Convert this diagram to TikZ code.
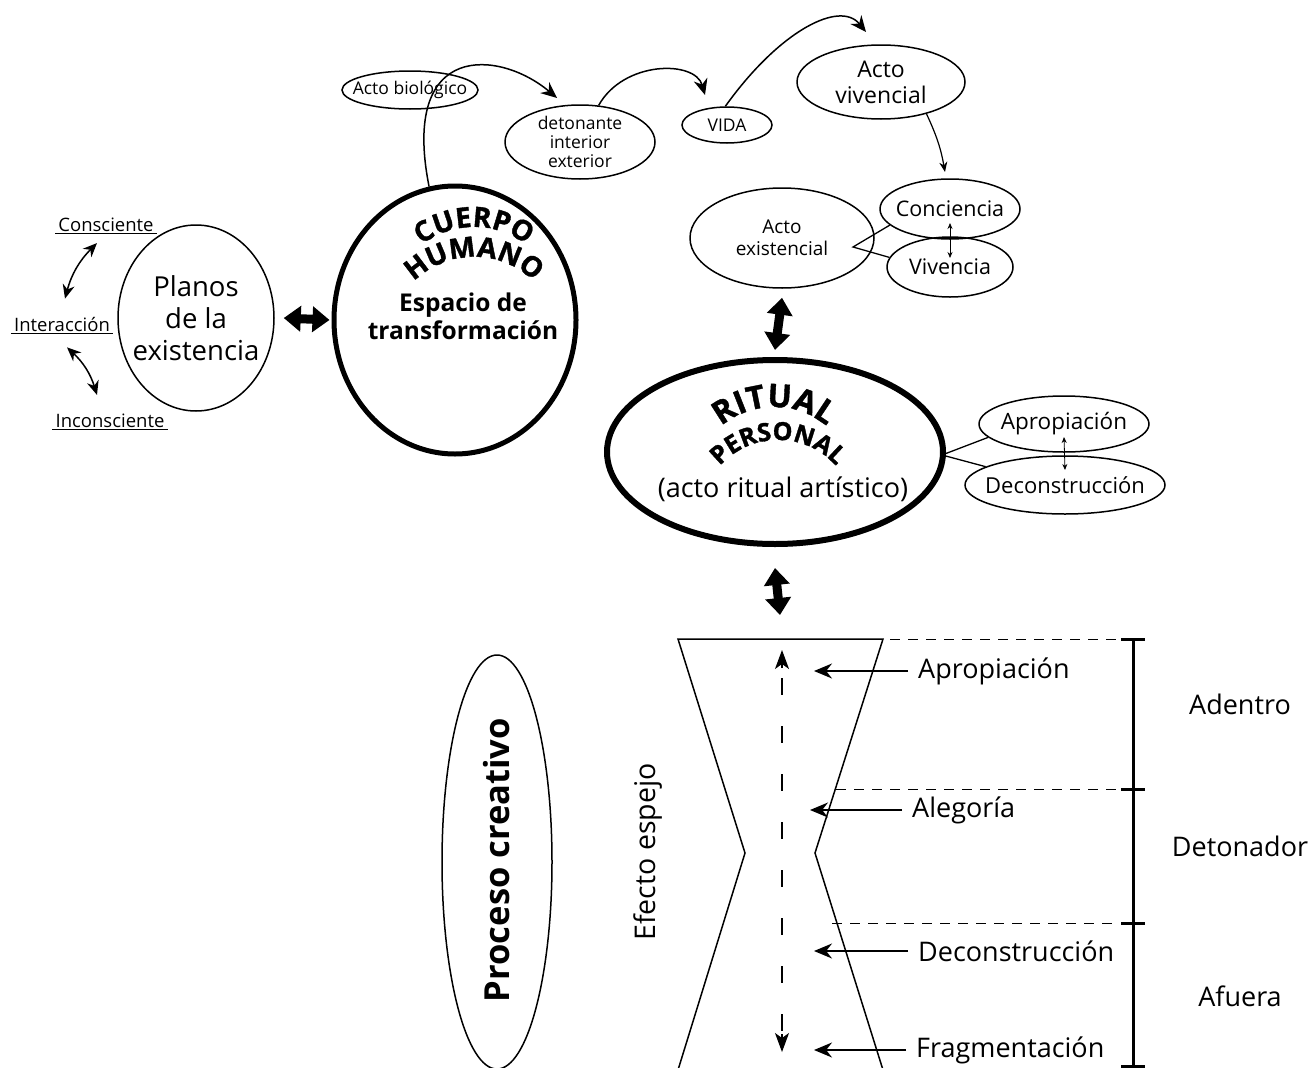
\documentclass[tikz,border=0pt]{standalone}
\usepackage{fontspec}
\setmainfont{Open Sans}
\newfontfamily\heavyfont{Open Sans}[BoldFeatures={FakeBold=1.3}]
\usetikzlibrary{shapes.geometric,arrows.meta,decorations.text,calc}

\begin{document}
\begin{tikzpicture}[x=1pt,y=-1pt,
  thin oval/.style={ellipse, draw, line width=1.5pt, inner sep=0pt},
  bold oval/.style={ellipse, draw, line width=5pt, inner sep=0pt},
  bigarrow/.style={line width=9pt, {Triangle[length=17pt,width=25pt]}-{Triangle[length=17pt,width=25pt]}},
  toparrow/.style={line width=1.5pt, -{Stealth[length=16pt,width=14pt]}},
  sidearrow/.style={line width=1.5pt, {Stealth[length=14pt,width=12pt]}-{Stealth[length=14pt,width=12pt]}},
  thinarrow/.style={line width=1.2pt, -{Stealth[length=10pt,width=8pt]}},
  tinyarrow/.style={line width=0.8pt, {Stealth[length=6pt,width=5pt]}-{Stealth[length=6pt,width=5pt]}},
  hlarrow/.style={line width=1.6pt, -{Stealth[length=18pt,width=15pt]}},
  mirrortip/.style={line width=1.3pt, -{Stealth[length=19pt,width=14pt,inset=5pt]}},
  small/.style={font=\fontsize{18.5}{22}\selectfont, inner sep=1pt},
  lbl/.style={font=\fontsize{27}{32}\selectfont, inner sep=0pt},
  guide/.style={line width=1pt, dash pattern=on 10pt off 8pt},
  arctext/.style 2 args={decorate, decoration={text along path, text align=center,
      text={|\heavyfont\bfseries\fontsize{#1}{#1}\selectfont|#2}}}
]
\useasboundingbox (0,0) rectangle (1312,1068);

% ---- planes of existence ----
\node[thin oval, minimum width=156pt, minimum height=186pt,
      label={[font=\fontsize{27.5}{32}\selectfont, align=center, inner sep=0pt]center:{Planos\\de la\\existencia}}] (planos) at (196,318) {};
\node[small] (con) at (106,225) {Consciente};
\node[small] (inter) at (62,325) {Interacción};
\node[small] (incon) at (110,421) {Inconsciente};
\draw[line width=1pt] ([xshift=-2pt]con.south west) -- ([xshift=2pt]con.south east);
\draw[line width=1pt] ([xshift=-2pt]inter.south west) -- ([xshift=2pt]inter.south east);
\draw[line width=1pt] ([xshift=-2pt]incon.south west) -- ([xshift=2pt]incon.south east);
\draw[sidearrow] ([shift={(-9,10)}]con.south) to[bend right=15] ([shift={(3,-18)}]inter.north);
\draw[sidearrow] ([shift={(5,14)}]inter.south) to[bend left=15] ([shift={(-13,-18)}]incon.north);

% ---- human body ----
\node[bold oval, minimum width=242pt, minimum height=268pt] (cuerpo) at (455,320) {};
\path[arctext={28}{CUERPO}] ([shift={(150:86pt)}]474,313) arc[start angle=150, end angle=30, radius=86pt];
\path[arctext={28}{HUMANO}] ([shift={(150:86pt)}]474,343) arc[start angle=150, end angle=30, radius=86pt];
\node[font=\bfseries\fontsize{24.5}{28}\selectfont, align=center] (espacio) at (463,316) {Espacio de\\transformación};
\draw[bigarrow] ([xshift=9pt]planos.east) -- ([xshift=-2pt]cuerpo.west);

% ---- chain of acts ----
\node[thin oval, minimum width=136pt, minimum height=38pt,
      label={[font=\fontsize{17.5}{20}\selectfont, inner sep=0pt]center:Acto biológico}] (bio) at (410,90) {};
\node[thin oval, minimum width=150pt, minimum height=74pt,
      label={[font=\fontsize{17.5}{19}\selectfont, align=center, inner sep=0pt]center:{detonante\\interior\\exterior}}] (det) at (580,142) {};
\node[thin oval, minimum width=90pt, minimum height=36pt,
      label={[font=\fontsize{17.5}{20}\selectfont, inner sep=0pt]center:VIDA}] (vida) at (727,125) {};
\node[thin oval, minimum width=168pt, minimum height=74pt,
      label={[font=\fontsize{23}{26}\selectfont, align=center, inner sep=0pt]center:{Acto\\vivencial}}] (viv) at (881,82) {};
\draw[toparrow] (cuerpo.101) .. controls (400,40) and (500,50) .. ([shift={(-23,-44)}]det.center);
\draw[toparrow] (det.63) .. controls +(25,-45) and +(-10,-35) .. ([shift={(-22,-30)}]vida.center);
\draw[toparrow] (vida.95) .. controls (780,30) and (840,0) .. ([shift={(-15,-50)}]viv.center);

% ---- existential act ----
\node[thin oval, minimum width=184pt, minimum height=100pt,
      label={[font=\fontsize{19}{22}\selectfont, align=center, inner sep=0pt]center:{Acto\\existencial}}] (exist) at (782,238) {};
\node[thin oval, minimum width=140pt, minimum height=60pt,
      label={[font=\fontsize{21.5}{24}\selectfont, inner sep=0pt]center:Conciencia}] (conc) at (950,209) {};
\node[thin oval, minimum width=126pt, minimum height=60pt,
      label={[font=\fontsize{21.5}{24}\selectfont, inner sep=0pt]center:Vivencia}] (vivn) at (950,267) {};
\draw[thinarrow] (viv.-35) to[out=-65, in=100] ([shift={(-5,-37)}]conc.center);
\coordinate (exvert) at (853,247);
\draw[line width=1.3pt] (conc.195) -- (exvert) -- (vivn.171);
\draw[tinyarrow] ([yshift=-14pt]conc.center) -- ([yshift=9pt]vivn.center);

% ---- personal ritual ----
\node[bold oval, line width=6pt, minimum width=336pt, minimum height=184pt] (ritual) at (775,452) {};
\path[arctext={32}{RITUAL}] ([shift={(155:82pt)}]774,489) arc[start angle=155, end angle=25, radius=82pt];
\path[arctext={25}{PERSONAL}] ([shift={(160:78pt)}]778,518) arc[start angle=160, end angle=20, radius=78pt];
\node[font=\fontsize{27}{30}\selectfont] (artistico) at (783,489) {(acto ritual artístico)};
\draw[bigarrow] ([yshift=-9pt]exist.south) -- ([yshift=7pt]ritual.north);

\node[thin oval, minimum width=170pt, minimum height=56pt,
      label={[font=\fontsize{22.5}{24}\selectfont, inner sep=0pt]center:Apropiación}] (apr) at (1064,424) {};
\node[thin oval, minimum width=200pt, minimum height=58pt,
      label={[font=\fontsize{22}{24}\selectfont, inner sep=0pt]center:Deconstrucción}] (dec) at (1065,485) {};
\coordinate (ritvert) at (942,455);
\draw[line width=1.3pt] (apr.190) -- (ritvert) -- (dec.167);
\draw[tinyarrow] ([yshift=-13pt]apr.center) -- ([yshift=15pt]dec.center);

% ---- creative process (hourglass) ----
\coordinate (hgTL) at (678,639);
\coordinate (hgTR) at (883,639);
\coordinate (hgPL) at (745,853);
\coordinate (hgPR) at (815,853);
\coordinate (hgBL) at (678,1070);
\coordinate (hgBR) at (883,1070);
\coordinate (hgTop) at (780,639);
\draw[line width=1.5pt] (hgBL) -- (hgPL) -- (hgTL) -- (hgTR) -- (hgPR) -- (hgBR);
\draw[bigarrow] ([yshift=-21pt]ritual.south) -- ([yshift=24pt]hgTop);

% mirror effect: dashed shaft with solid heads at both ends
\coordinate (mirTop) at (782,650);
\coordinate (mirBot) at (782,1052);
\draw[line width=1.3pt, dash pattern=on 17pt off 31pt, dash phase=-14pt] ([yshift=-14pt]mirTop) -- ([yshift=14pt]mirBot);
\draw[mirrortip] ([yshift=-18pt]mirTop) -- (mirTop);
\draw[mirrortip] ([yshift=18pt]mirBot) -- (mirBot);

\node[lbl, anchor=west] (hApr) at (918,671) {Apropiación};
\node[lbl, anchor=west] (hAle) at (912,810) {Alegoría};
\node[lbl, anchor=west] (hDec) at (918,951) {Deconstrucción};
\node[lbl, anchor=west] (hFrag) at (916,1050) {Fragmentación};
\coordinate (tApr) at (814,671);
\coordinate (tAle) at (810,810);
\coordinate (tDec) at (814,951);
\coordinate (tFrag) at (814,1050);
\draw[hlarrow] ([xshift=-10pt]hApr.west) -- (tApr);
\draw[hlarrow] ([xshift=-10pt]hAle.west) -- (tAle);
\draw[hlarrow] ([xshift=-10pt]hDec.west) -- (tDec);
\draw[hlarrow] ([xshift=-10pt]hFrag.west) -- (tFrag);

% ---- scale on the right ----
\coordinate (s1) at (1133,639);
\coordinate (s2) at (1133,789);
\coordinate (s3) at (1133,923);
\coordinate (s4) at (1133,1066);
\draw[line width=3pt] (s1) -- (1133,1070);
\foreach \s in {s1,s2,s3,s4} \draw[line width=3pt] ([xshift=-12pt]\s) -- ([xshift=12pt]\s);
\draw[guide] (890,639) -- ([xshift=-14pt]s1);
\draw[guide] (836,789) -- ([xshift=-14pt]s2);
\draw[guide] (832,923) -- ([xshift=-14pt]s3);
\node[lbl] (adentro) at (1240,704) {Adentro};
\node[lbl] (detonador) at (1240,846) {Detonador};
\node[lbl] (afuera) at (1240,996) {Afuera};

\node[thin oval, minimum width=110pt, minimum height=414pt] (proc) at (497,862) {};
\node[rotate=90, font=\bfseries\fontsize{34.5}{38}\selectfont] (proctext) at (497,860) {Proceso creativo};
\node[rotate=90, font=\fontsize{28.5}{32}\selectfont] (espejo) at (648,852) {Efecto espejo};
\end{tikzpicture}
\end{document}
